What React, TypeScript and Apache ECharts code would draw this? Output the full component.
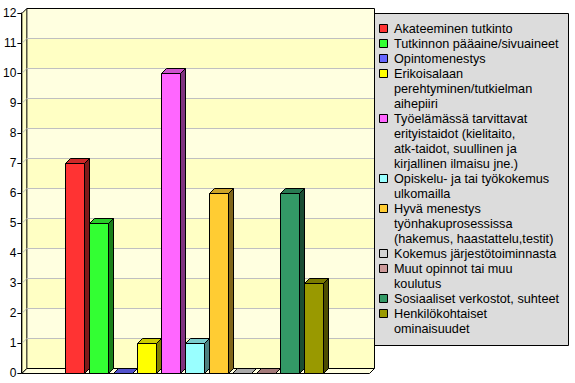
import React, { useEffect, useRef } from "react";
import * as echarts from "echarts";

const categories = [
  "Akateeminen tutkinto",
  "Tutkinnon pääaine/sivuaineet",
  "Opintomenestys",
  "Erikoisalaan perehtyminen/tutkielman aihepiiri",
  "Työelämässä tarvittavat erityistaidot (kielitaito, atk-taidot, suullinen ja kirjallinen ilmaisu jne.)",
  "Opiskelu- ja tai työkokemus ulkomailla",
  "Hyvä menestys työnhakuprosessissa (hakemus, haastattelu,testit)",
  "Kokemus järjestötoiminnasta",
  "Muut opinnot tai muu koulutus",
  "Sosiaaliset verkostot, suhteet",
  "Henkilökohtaiset ominaisuudet",
];

const legendLines = [
  "Akateeminen tutkinto",
  "Tutkinnon pääaine/sivuaineet",
  "Opintomenestys",
  "Erikoisalaan\nperehtyminen/tutkielman\naihepiiri",
  "Työelämässä tarvittavat\nerityistaidot (kielitaito,\natk-taidot, suullinen ja\nkirjallinen ilmaisu jne.)",
  "Opiskelu- ja tai työkokemus\nulkomailla",
  "Hyvä menestys\ntyönhakuprosessissa\n(hakemus, haastattelu,testit)",
  "Kokemus järjestötoiminnasta",
  "Muut opinnot tai muu\nkoulutus",
  "Sosiaaliset verkostot, suhteet",
  "Henkilökohtaiset\nominaisuudet",
];

const values = [7, 5, 0, 1, 10, 1, 6, 0, 0, 6, 3];

const colors = [
  "#FF3333",
  "#33FF33",
  "#6666FF",
  "#FFFF00",
  "#FF66FF",
  "#99FFFF",
  "#FFCC33",
  "#D3D3D3",
  "#CC9999",
  "#339966",
  "#999900",
];

const yTicks = [0, 1, 2, 3, 4, 5, 6, 7, 8, 9, 10, 11, 12];

function shade(hex: string, f: number): string {
  const n = parseInt(hex.slice(1), 16);
  const r = Math.round(((n >> 16) & 255) * f);
  const g = Math.round(((n >> 8) & 255) * f);
  const b = Math.round((n & 255) * f);
  return "rgb(" + r + "," + g + "," + b + ")";
}

const D = 5;

export default function App() {
  const ref = useRef<HTMLDivElement>(null);
  useEffect(() => {
    if (!ref.current) return;
    document.body.style.margin = "0";
    const chart = echarts.init(ref.current, null, { renderer: "svg" });

    const wallRender = (params: any, api: any) => {
      const cs = params.coordSys;
      const xl = cs.x + 0.5;
      const xr = cs.x + cs.width + 0.5;
      const children: any[] = [];
      const yb = (v: number) => Math.round(api.coord([0, v])[1]) + 0.5;
      const y0 = yb(0);
      const ytop = yb(yTicks[yTicks.length - 1]);
      for (let k = 0; k < yTicks.length - 1; k++) {
        const ya = yb(yTicks[k]) - D;
        const yc = yb(yTicks[k + 1]) - D;
        children.push({
          type: "rect",
          shape: { x: xl + D, y: yc, width: xr - xl, height: ya - yc },
          style: { fill: k % 2 === 0 ? "#FFFFC4" : "#FFFFE0" },
          silent: true,
        });
      }
      children.push({
        type: "polygon",
        shape: { points: [[xl, y0], [xl + D, y0 - D], [xl + D, ytop - D], [xl, ytop]] },
        style: { fill: "#FFFFC8", stroke: "#000", lineWidth: 1 },
        silent: true,
      });
      for (let k = 1; k < yTicks.length - 1; k++) {
        const y = yb(yTicks[k]);
        children.push({
          type: "polyline",
          shape: { points: [[xl, y], [xl + D, y - D], [xr + D, y - D]] },
          style: { stroke: "#C0C0C0", lineWidth: 1, fill: null },
          silent: true,
        });
      }
      children.push({
        type: "polyline",
        shape: { points: [[xl + D, ytop - D], [xr + D, ytop - D], [xr + D, y0 - D]] },
        style: { stroke: "#000", lineWidth: 1, fill: null },
        silent: true,
      });
      children.push({
        type: "polygon",
        shape: { points: [[xl, y0], [xl + D, y0 - D], [xr + D, y0 - D], [xr, y0]] },
        style: { fill: "#FFFFE0", stroke: "#000", lineWidth: 1 },
        silent: true,
      });
      return { type: "group", children };
    };

    const barRender = (params: any, api: any) => {
      const i = api.value(0);
      const v = api.value(1);
      const c = api.coord([i, v]);
      const base = api.coord([i, 0]);
      const w = 19;
      const x0 = Math.round(c[0] - w / 2) + 0.5;
      const x1 = x0 + w;
      const yv = Math.round(c[1]) + 0.5;
      const y0 = Math.round(base[1]) + 0.5;
      const col = colors[params.dataIndex];
      const children: any[] = [];
      if (v > 0) {
        children.push({
          type: "polygon",
          shape: { points: [[x1, yv], [x1 + D, yv - D], [x1 + D, y0 - D], [x1, y0]] },
          style: { fill: shade(col, 0.5), stroke: "#000", lineWidth: 1 },
        });
        children.push({
          type: "rect",
          shape: { x: x0, y: yv, width: w, height: y0 - yv },
          style: { fill: col, stroke: "#000", lineWidth: 1 },
        });
      }
      children.push({
        type: "polygon",
        shape: { points: [[x0, yv], [x0 + D, yv - D], [x1 + D, yv - D], [x1, yv]] },
        style: { fill: shade(col, 0.8), stroke: "#000", lineWidth: 1 },
      });
      return { type: "group", children };
    };

    const legendChildren: any[] = [];
    legendChildren.push({
      type: "rect",
      shape: { x: 369.5, y: 13.5, width: 199, height: 332 },
      style: { fill: "#DCDCDC", stroke: "#000", lineWidth: 1 },
    });
    let line = 0;
    legendLines.forEach((txt, idx) => {
      const yy = 21 + line * 15;
      legendChildren.push({
        type: "rect",
        shape: { x: 379.5, y: yy + 3.5, width: 8, height: 8 },
        style: { fill: colors[idx], stroke: "#000", lineWidth: 1 },
      });
      legendChildren.push({
        type: "text",
        x: 394,
        y: yy,
        style: {
          text: txt,
          fill: "#000",
          font: "12.7px 'Liberation Sans', Arial, sans-serif",
          lineHeight: 15,
          verticalAlign: "top",
          align: "left",
        },
      });
      line += txt.split("\n").length;
    });

    const option: any = {
      animation: false,
      backgroundColor: "#FFFFFF",
      grid: { left: 20, right: 206, top: 13, bottom: 10, containLabel: false },
      xAxis: {
        type: "value",
        min: -2.2292,
        max: 12.3125,
        show: false,
      },
      yAxis: {
        type: "value",
        min: 0,
        max: 12,
        interval: 1,
        axisLine: { show: true, onZero: false, lineStyle: { color: "#000", width: 1 } },
        axisTick: { show: true, length: 4, lineStyle: { color: "#000" } },
        axisLabel: {
          color: "#000",
          fontSize: 12,
          fontFamily: "'Liberation Sans', Arial, sans-serif",
          margin: 5,
        },
        splitLine: { show: false },
        z: 10,
      },
      series: [
        {
          type: "custom",
          name: "wall",
          renderItem: wallRender,
          data: [[0, 0]],
          silent: true,
          z: 1,
        },
        {
          type: "custom",
          name: "values",
          renderItem: barRender,
          data: values.map((v, i) => ({ name: categories[i], value: [i, v] })),
          z: 2,
        },
      ],
      graphic: [{ type: "group", z: 100, children: legendChildren }],
    };
    chart.setOption(option);
    return () => chart.dispose();
  }, []);
  return <div ref={ref} style={{ width: 575, height: 383 }} />;
}
